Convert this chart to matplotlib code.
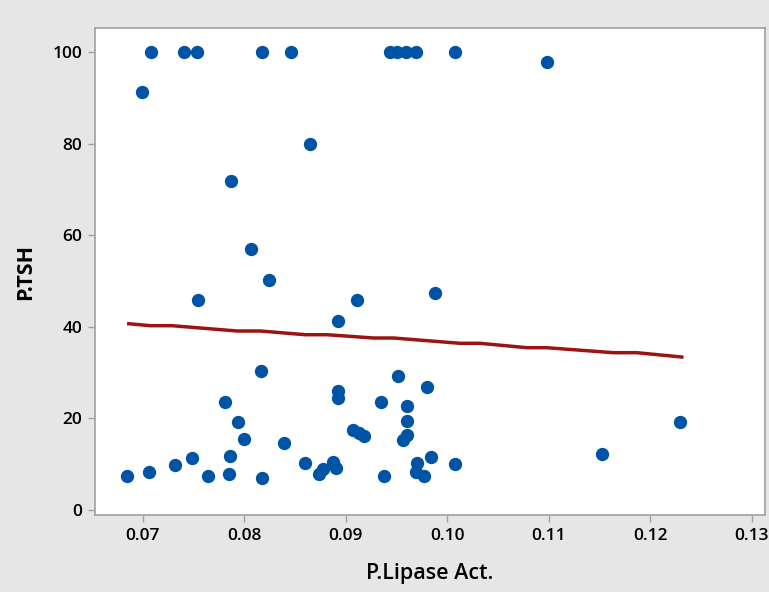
import matplotlib
matplotlib.use("Agg")
import matplotlib.pyplot as plt

# P.Lipase Act. (x) and P.TSH (y)
lipase = [0.07084, 0.07405, 0.07539, 0.08172, 0.08460, 0.09434, 0.09509,
          0.09598, 0.09689, 0.10080, 0.10984, 0.06998,
          0.08650, 0.07867, 0.08070, 0.08241, 0.07543, 0.08922, 0.09109,
          0.09876, 0.08168, 0.09515, 0.09804, 0.08919, 0.08922,
          0.06845, 0.07064, 0.07320, 0.07490, 0.07644, 0.07814, 0.07851,
          0.07864, 0.07936, 0.08001, 0.08172, 0.08394, 0.08598, 0.08735,
          0.08778, 0.08870, 0.08909, 0.09073, 0.09129, 0.09178, 0.09345,
          0.09381, 0.09604, 0.09604, 0.09565, 0.09608, 0.09706, 0.09689,
          0.09775, 0.09840, 0.10076, 0.11528, 0.12295]
tsh = [100, 100, 100, 100, 100, 100, 100,
       100, 100, 100, 97.8, 91.4,
       80.0, 71.9, 57.1, 50.2, 45.8, 41.3, 45.8,
       47.4, 30.4, 29.3, 26.9, 26.1, 24.4,
       7.4, 8.2, 9.8, 11.4, 7.4, 23.6, 7.8,
       11.9, 19.2, 15.5, 7.1, 14.7, 10.2, 7.9,
       8.9, 10.4, 9.1, 17.5, 16.8, 16.2, 23.5,
       7.4, 22.8, 19.5, 15.4, 16.4, 10.3, 8.2,
       7.4, 11.5, 10.0, 12.3, 19.2]

# smoother line
fit_x = [0.06863, 0.07077, 0.07290, 0.07930, 0.08159, 0.08602, 0.08816,
         0.09275, 0.09471, 0.10128, 0.10325, 0.10785, 0.10981, 0.11637,
         0.11867, 0.12310]
fit_y = [40.70, 40.27, 40.27, 39.11, 39.11, 38.30, 38.30,
         37.58, 37.58, 36.42, 36.42, 35.46, 35.46, 34.37,
         34.37, 33.43]

x_ticks = [0.07, 0.08, 0.09, 0.10, 0.11, 0.12, 0.13]
x_labels = ["0.07", "0.08", "0.09", "0.10", "0.11", "0.12", "0.13"]
y_ticks = [0, 20, 40, 60, 80, 100]

plt.rcParams['font.family'] = ['Open Sans', 'DejaVu Sans']

fig = plt.figure(figsize=(7.69, 5.92), dpi=100, facecolor='#e6e6e6')
ax = fig.add_axes([0.1235, 0.130, 0.8713, 0.8226])
ax.set_facecolor('white')

ax.scatter(lipase, tsh, s=92, color='#0054a6', linewidths=0, zorder=3)
ax.plot(fit_x, fit_y, color='#9b1414', linewidth=2.5, zorder=2)

ax.set_xlim(0.0653, 0.1313)
ax.set_ylim(-1.1, 105.3)
ax.set_xticks(x_ticks)
ax.set_xticklabels(x_labels)
ax.set_yticks(y_ticks)

for sp in ax.spines.values():
    sp.set_color('#a0a0a0')
    sp.set_linewidth(1.2)

ax.tick_params(axis='both', direction='out', length=5, width=1,
               color='#a0a0a0', labelsize=12.5, labelcolor='black', pad=4)
for lab in ax.get_xticklabels() + ax.get_yticklabels():
    lab.set_fontweight('semibold')

ax.set_xlabel('P.Lipase Act.', fontsize=15.5, fontweight='semibold', labelpad=14)
ax.set_ylabel('P.TSH', fontsize=15.5, fontweight='bold', labelpad=12)

fig.savefig('out.png', dpi=100, facecolor=fig.get_facecolor())
